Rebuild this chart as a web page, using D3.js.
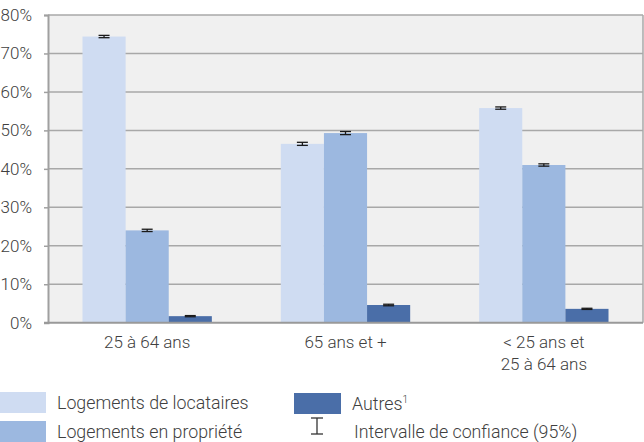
<!DOCTYPE html>
<html>
<head>
<meta charset="utf-8">
<script src="https://cdn.jsdelivr.net/npm/d3@7"></script>
<style>
body { margin: 0; background: #fff; }
text { font-family: Roboto, "Noto Sans", sans-serif; font-weight: 300; fill: #404040; }
</style>
</head>
<body>
<script>
// data
var groups = ["25 à 64 ans", "65 ans et +", "< 25 ans et\n25 à 64 ans"]
var series = ["Logements de locataires", "Logements en propriété", "Autres"]
var locataires = [74.4, 46.5, 55.8]
var propriete = [24.0, 49.3, 41.0]
var autres = [1.7, 4.6, 3.6]
var errLocataires = [0.3, 0.4, 0.3]
var errPropriete = [0.3, 0.4, 0.3]
var errAutres = [0.15, 0.2, 0.15]
var yTicks = [0, 10, 20, 30, 40, 50, 60, 70, 80]

var colours = ["#cfdcf2", "#9cb8e0", "#4a6ea8"]

var width = 644, height = 442
var plotLeft = 48, plotRight = 643, plotTop = 15, plotBottom = 322.7

var svg = d3.select("body").append("svg")
	.attr("width", width)
	.attr("height", height)

var x0 = d3.scaleBand().domain(groups).range([plotLeft, plotRight])
var x1 = d3.scaleBand().domain(series).range([0, x0.bandwidth()]).paddingOuter(0.8)
var y = d3.scaleLinear().domain([0, 80]).range([plotBottom, plotTop])

// plot background
svg.append("rect")
	.attr("x", plotLeft).attr("y", plotTop)
	.attr("width", plotRight - plotLeft).attr("height", plotBottom - plotTop)
	.attr("fill", "#f0f0f0")

// gridlines
svg.selectAll(".grid").data(yTicks.slice(1))
	.enter().append("line")
	.attr("x1", plotLeft).attr("x2", plotRight)
	.attr("y1", function(d){ return y(d) }).attr("y2", function(d){ return y(d) })
	.attr("stroke", "#a8a8a8").attr("stroke-width", 1.5)

// right border
svg.append("line")
	.attr("x1", plotRight).attr("x2", plotRight).attr("y1", plotTop).attr("y2", plotBottom)
	.attr("stroke", "#a8a8a8").attr("stroke-width", 1.5)

// bars
var rows = groups.map(function(g, i){
	return [
		{g: g, s: series[0], v: locataires[i], e: errLocataires[i]},
		{g: g, s: series[1], v: propriete[i], e: errPropriete[i]},
		{g: g, s: series[2], v: autres[i], e: errAutres[i]}
	]
})

var groupSel = svg.selectAll(".grp").data(rows)
	.enter().append("g")
	.attr("transform", function(d, i){ return "translate(" + x0(groups[i]) + ",0)" })

groupSel.selectAll("rect").data(function(d){ return d })
	.enter().append("rect")
	.attr("x", function(d){ return x1(d.s) })
	.attr("width", x1.bandwidth())
	.attr("y", function(d){ return y(d.v) })
	.attr("height", function(d){ return y(0) - y(d.v) })
	.attr("fill", function(d, i){ return colours[i] })

// error bars
var errG = groupSel.selectAll(".err").data(function(d){ return d })
	.enter().append("g")
	.attr("stroke", "#1a1a1a").attr("stroke-width", 1.3)
errG.append("line")
	.attr("x1", function(d){ return x1(d.s) + x1.bandwidth() / 2 })
	.attr("x2", function(d){ return x1(d.s) + x1.bandwidth() / 2 })
	.attr("y1", function(d){ return y(d.v + d.e) }).attr("y2", function(d){ return y(d.v - d.e) })
errG.append("line")
	.attr("x1", function(d){ return x1(d.s) + x1.bandwidth() / 2 - 5.5 })
	.attr("x2", function(d){ return x1(d.s) + x1.bandwidth() / 2 + 5.5 })
	.attr("y1", function(d){ return y(d.v + d.e) }).attr("y2", function(d){ return y(d.v + d.e) })
errG.append("line")
	.attr("x1", function(d){ return x1(d.s) + x1.bandwidth() / 2 - 5.5 })
	.attr("x2", function(d){ return x1(d.s) + x1.bandwidth() / 2 + 5.5 })
	.attr("y1", function(d){ return y(d.v - d.e) }).attr("y2", function(d){ return y(d.v - d.e) })

// y axis
var yAxis = d3.axisLeft(y).tickValues(yTicks).tickSize(4).tickPadding(12)
	.tickFormat(function(d){ return d + "%" })
var yG = svg.append("g").attr("transform", "translate(" + plotLeft + ",0)").call(yAxis)
yG.attr("font-family", null).attr("font-size", null)
yG.select(".domain").attr("stroke", "#a0a0a0").attr("stroke-width", 2)
yG.selectAll(".tick line").attr("stroke", "#a0a0a0").attr("stroke-width", 1.5)
yG.selectAll("text").style("font-size", "17px").attr("fill", "#404040")

// x axis line
svg.append("line")
	.attr("x1", plotLeft - 4).attr("x2", plotRight)
	.attr("y1", plotBottom).attr("y2", plotBottom)
	.attr("stroke", "#999").attr("stroke-width", 2)

// x labels
svg.selectAll(".xlab").data(groups)
	.enter().append("text")
	.attr("text-anchor", "middle")
	.attr("x", function(d){ return x0(d) + x0.bandwidth() / 2 })
	.attr("y", 348)
	.style("font-size", "17px")
	.each(function(d){
		var lines = d.split("\n")
		var t = d3.select(this)
		lines.forEach(function(l, i){
			t.append("tspan")
				.attr("x", t.attr("x"))
				.attr("dy", i == 0 ? 0 : 22)
				.text(l)
		})
	})

// legend
var legendItems = [
	{x: 0, y: 392, w: 46, c: colours[0], label: series[0], tx: 57},
	{x: 0, y: 421, w: 46, c: colours[1], label: series[1], tx: 57},
	{x: 294, y: 393, w: 47, c: colours[2], label: "Autres", tx: 352}
]
var leg = svg.selectAll(".leg").data(legendItems).enter().append("g")
leg.append("rect")
	.attr("x", function(d){ return d.x }).attr("y", function(d){ return d.y })
	.attr("width", function(d){ return d.w }).attr("height", 21)
	.attr("fill", function(d){ return d.c })
var legText = leg.append("text")
	.attr("x", function(d){ return d.tx }).attr("y", function(d){ return d.y + 17 })
	.style("font-size", "17.8px")
	.text(function(d){ return d.label })
legText.filter(function(d){ return d.label == "Autres" })
	.append("tspan").attr("dy", -7).style("font-size", "10px").text("1")

// error bar legend icon
var icon = svg.append("g").attr("stroke", "#333").attr("stroke-width", 1.3)
icon.append("line").attr("x1", 317).attr("x2", 317).attr("y1", 418).attr("y2", 434)
icon.append("line").attr("x1", 311).attr("x2", 323).attr("y1", 418).attr("y2", 418)
icon.append("line").attr("x1", 311).attr("x2", 323).attr("y1", 434).attr("y2", 434)
svg.append("text").attr("x", 354).attr("y", 438)
	.style("font-size", "17.8px")
	.text("Intervalle de confiance (95%)")
</script>
</body>
</html>
